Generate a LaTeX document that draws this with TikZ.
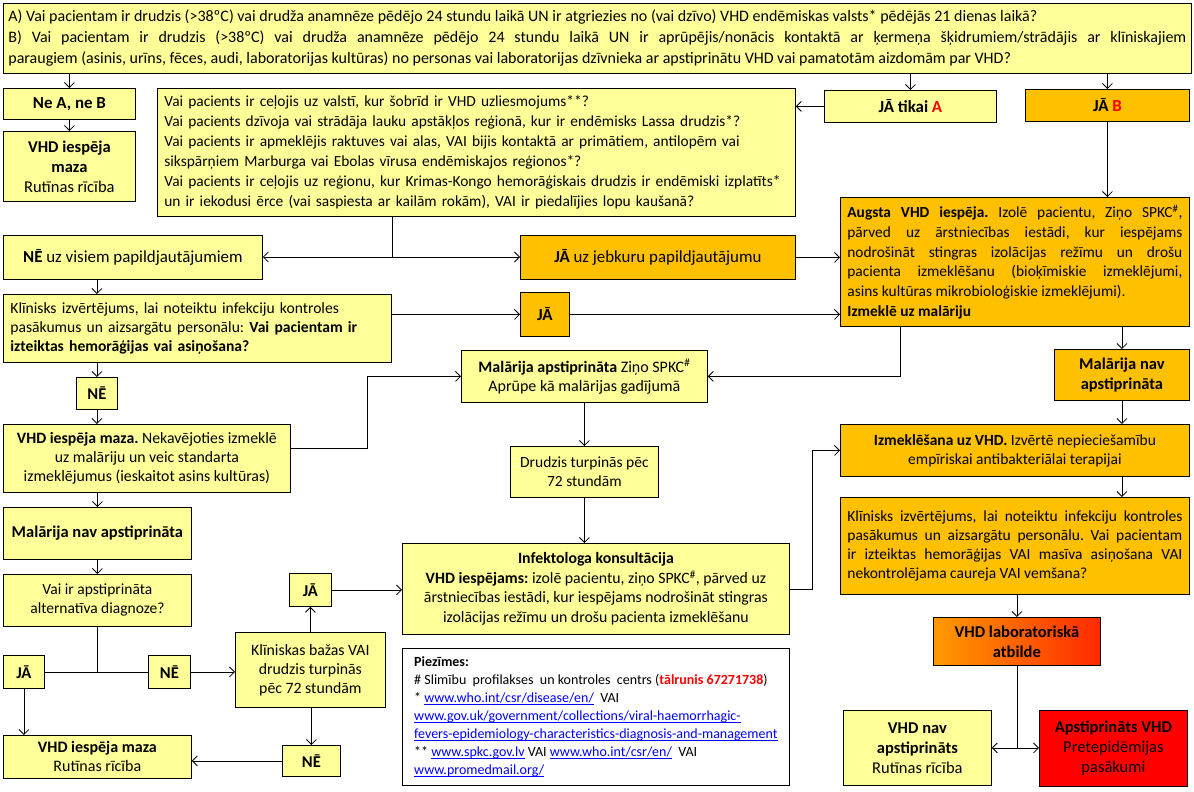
\documentclass[tikz,border=0pt]{standalone}
\usepackage{fontspec}
\setmainfont{Carlito}
\usetikzlibrary{arrows.meta}
\usetikzlibrary{shapes.geometric}
\definecolor{lyellow}{HTML}{FFFF99}
\definecolor{lorange}{HTML}{FFC000}
\definecolor{labA}{HTML}{FF9A00}
\definecolor{labB}{HTML}{FF2A00}
\newcommand{\lnk}[1]{\leavevmode{\color{blue}\setbox0\hbox{#1}\rlap{\rule[-2pt]{\wd0}{0.6pt}}\box0}}
\frenchspacing
\tikzstyle{arrow} = [line width=0.8pt,->,>={Straight Barb[length=5pt,width=10pt]}]
\tikzstyle{line} = [line width=0.8pt]
\tikzstyle{ybox} = [rectangle, draw=black, line width=0.8pt, fill=lyellow, anchor=north west, inner xsep=4pt, inner ysep=2pt, align=center, font=\fontsize{15.5}{19.5}\selectfont]
\tikzstyle{obox} = [ybox, fill=lorange]
\tikzstyle{big} = [font=\fontsize{16.9}{20}\selectfont]
\tikzstyle{mid} = [font=\fontsize{16.5}{20}\selectfont]

\begin{document}
\begin{tikzpicture}[x=1pt, y=-1pt]
		\useasboundingbox (0,0) rectangle (1194,792);
		% top question
		\node (top) [ybox, text width=1178pt, minimum height=70pt, align=justify, inner xsep=5pt, font=\fontsize{16}{21}\selectfont] at (3,3) {A) Vai pacientam ir drudzis (>38ºC) vai drudža anamnēze pēdējo 24 stundu laikā UN ir atgriezies no (vai dzīvo) VHD endēmiskas valsts* pēdējās 21 dienas laikā?\\ B) Vai pacientam ir drudzis (>38ºC) vai drudža anamnēze pēdējo 24 stundu laikā UN ir aprūpējis/nonācis kontaktā ar ķermeņa šķidrumiem/strādājis ar klīniskajiem\linebreak paraugiem (asinis, urīns, fēces, audi, laboratorijas kultūras) no personas vai laboratorijas dzīvnieka ar apstiprinātu VHD vai pamatotām aizdomām par VHD?};
		\node (nenb) [ybox, big, minimum width=132pt, minimum height=31pt] at (3,88) {\textbf{Ne A, ne B}};
		\node (mz1) [ybox, mid, minimum width=132pt, minimum height=70pt] at (3,131) {\textbf{VHD iespēja}\\ \textbf{maza}\\ Rutīnas rīcība};
		\node (q) [ybox, text width=624pt, minimum height=128pt, align=left, inner xsep=7pt, font=\fontsize{15.4}{20}\selectfont] at (157,88) {Vai pacients ir ceļojis uz valstī, kur šobrīd ir VHD uzliesmojums**?\\ Vai pacients dzīvoja vai strādāja lauku apstākļos reģionā, kur ir endēmisks Lassa drudzis*?\\ Vai pacients ir apmeklējis raktuves vai alas, VAI bijis kontaktā ar primātiem, antilopēm vai\\ sikspārņiem Marburga vai Ebolas vīrusa endēmiskajos reģionos*?\\ Vai pacients ir ceļojis uz reģionu, kur Krimas-Kongo hemorāģiskais drudzis ir endēmiski izplatīts*\\ un ir iekodusi ērce (vai saspiesta ar kailām rokām), VAI ir piedalījies lopu kaušanā?};
		\node (jta) [ybox, big, minimum width=172pt, minimum height=32pt] at (824,90) {\textbf{JĀ tikai {\color{red}A}}};
		\node (jb) [obox, big, minimum width=164pt, minimum height=32pt] at (1025,89) {\textbf{JĀ {\color{red}B}}};
		\node (nall) [ybox, big, minimum width=259pt, minimum height=44pt] at (3,235) {\textbf{NĒ} uz visiem papildjautājumiem};
		\node (jany) [obox, big, minimum width=275pt, minimum height=44pt] at (520,235) {\textbf{JĀ} uz jebkuru papildjautājumu};
		\node (aug) [obox, text width=335pt, minimum height=129pt, align=justify, inner xsep=7pt, font=\fontsize{15.4}{19.7}\selectfont] at (840,197) {\textbf{Augsta VHD iespēja.} Izolē pacientu, Ziņo SPKC\textsuperscript{\#},\linebreak pārved uz ārstniecības iestādi, kur iespējams\linebreak nodrošināt stingras izolācijas režīmu un drošu\linebreak pacienta izmeklēšanu (bioķīmiskie izmeklējumi,\linebreak asins kultūras mikrobioloģiskie izmeklējumi).\\ \textbf{Izmeklē uz malāriju}};
		% left branch
		\node (kl1) [ybox, text width=374pt, minimum height=68pt, align=left, inner xsep=7pt, font=\fontsize{15.6}{19}\selectfont] at (3,294) {Klīnisks izvērtējums, lai noteiktu infekciju kontroles\\ pasākumus un aizsargātu personālu: \textbf{Vai pacientam ir}\\ \textbf{izteiktas hemorāģijas vai asiņošana?}};
		\node (ja1) [obox, big, minimum width=49pt, minimum height=44pt] at (520,292) {\textbf{JĀ}};
		\node (ne1) [ybox, mid, minimum width=41pt, minimum height=32pt] at (76,377) {\textbf{NĒ}};
		\node (mz2) [ybox, minimum width=287pt, minimum height=68pt, font=\fontsize{15.8}{19}\selectfont] at (3,424) {\textbf{VHD iespēja maza.} Nekavējoties izmeklē\\ uz malāriju un veic standarta\\ izmeklējumus (ieskaitot asins kultūras)};
		\node (map) [ybox, minimum width=246pt, minimum height=52pt, font=\fontsize{16}{19}\selectfont] at (461,350) {\textbf{Malārija apstiprināta} Ziņo SPKC\textsuperscript{\#}\\ Aprūpe kā malārijas gadījumā};
		\node (mnr) [obox, mid, minimum width=135pt, minimum height=51pt] at (1054,349) {\textbf{Malārija nav}\\ \textbf{apstiprināta}};
		\node (dr) [ybox, minimum width=148pt, minimum height=51pt, font=\fontsize{15.5}{19}\selectfont] at (510,446) {Drudzis turpinās pēc\\ 72 stundām};
		\node (izm) [obox, minimum width=349pt, minimum height=52pt, font=\fontsize{15.5}{19}\selectfont] at (840,424) {\textbf{Izmeklēšana uz VHD.} Izvērtē nepieciešamību\\ empīriskai antibakteriālai terapijai};
		\node (kl2) [obox, text width=335pt, minimum height=97pt, align=justify, inner xsep=7pt, font=\fontsize{15.5}{19}\selectfont] at (840,497) {Klīnisks izvērtējums, lai noteiktu infekciju kontroles\linebreak pasākumus un aizsargātu personālu. Vai pacientam\linebreak ir izteiktas hemorāģijas VAI masīva asiņošana VAI\linebreak nekontrolējama caureja VAI vemšana?};
		\node (mnl) [ybox, mid, minimum width=188pt, minimum height=52pt] at (3,507) {\textbf{Malārija nav apstiprināta}};
		\node (alt) [ybox, minimum width=188pt, minimum height=52pt, font=\fontsize{15.5}{19}\selectfont] at (3,574) {Vai ir apstiprināta\\ alternatīva diagnoze?};
		\node (ja2) [ybox, mid, minimum width=41pt, minimum height=33pt] at (3,655) {\textbf{JĀ}};
		\node (ne2) [ybox, mid, minimum width=42pt, minimum height=33pt] at (148,655) {\textbf{NĒ}};
		\node (kb) [ybox, minimum width=150pt, minimum height=75pt, font=\fontsize{15.8}{19}\selectfont] at (235,632) {Klīniskas bažas VAI\\ drudzis turpinās\\ pēc 72 stundām};
		\node (ja3) [ybox, mid, minimum width=42pt, minimum height=33pt] at (289,573) {\textbf{JĀ}};
		\node (ne3) [ybox, mid, minimum width=58pt, minimum height=31pt] at (282,745) {\textbf{NĒ}};
		\node (mz3) [ybox, minimum width=188pt, minimum height=43pt, font=\fontsize{16}{19}\selectfont] at (3,735) {\textbf{VHD iespēja maza}\\ Rutīnas rīcība};
		\node (inf) [ybox, minimum width=387pt, minimum height=91pt, font=\fontsize{15.8}{19.5}\selectfont] at (402,543) {\textbf{Infektologa konsultācija}\\ \textbf{VHD iespējams:} izolē pacientu, ziņo SPKC\textsuperscript{\#}, pārved uz\\ ārstniecības iestādi, kur iespējams nodrošināt stingras\\ izolācijas režīmu un drošu pacienta izmeklēšanu};
		\node (pz) [ybox, fill=white, minimum width=387pt, minimum height=137pt, align=left, font=\fontsize{14}{18}\selectfont] at (402,648) {\textbf{Piezīmes:}\\ \# Slimību\ \ profilakses\ \ un kontroles\ \ centrs ({\color{red}\textbf{tālrunis 67271738}})\\ {*} \lnk{www.who.int/csr/disease/en/}\ \ VAI\\ \lnk{www.gov.uk/government/collections/viral-haemorrhagic-}\\ \lnk{fevers-epidemiology-characteristics-diagnosis-and-management}\\ {**} \lnk{www.spkc.gov.lv} VAI \lnk{www.who.int/csr/en/}\ \ VAI\\ \lnk{www.promedmail.org/}};
		% laboratory result
		\node (lab) [ybox, mid, left color=labA, right color=labB, minimum width=167pt, minimum height=48pt] at (933,617) {\textbf{VHD laboratoriskā}\\ \textbf{atbilde}};
		\node (vna) [ybox, mid, minimum width=148pt, minimum height=75pt] at (843,710) {\textbf{VHD nav}\\ \textbf{apstiprināts}\\ Rutīnas rīcība};
		\node (apv) [ybox, mid, fill=red, minimum width=148pt, minimum height=76pt] at (1039,710) {\textbf{Apstiprināts VHD}\\ Pretepidēmijas\\ pasākumi};
		% connectors
		\coordinate (qj) at (392,257);
		\coordinate (c2) at (900,0);
		\draw [arrow] (top.south -| nenb) -- (nenb);
		\draw [arrow] (nenb) -- (mz1);
		\draw [arrow] (top.south -| jta) -- (jta);
		\draw [arrow] (top.south -| jb) -- (jb);
		\draw [arrow] (jta.west) -- (jta.west -| q.east);
		\draw [arrow] (jb) -- (jb |- aug.north);
		\draw [line] (q.south -| qj) -- (qj);
		\draw [arrow] (qj) -- (nall.east |- qj);
		\draw [arrow] (qj) -- (jany.west |- qj);
		\draw [arrow] (jany.east) -- (jany.east -| aug.west);
		\draw [arrow] (nall.south -| ne1) -- (kl1.north -| ne1);
		\draw [arrow] (kl1.south -| ne1) -- (ne1);
		\draw [arrow] (ne1) -- (ne1 |- mz2.north);
		\draw [arrow] (kl1.east |- ja1) -- (ja1);
		\draw [arrow] (ja1) -- (ja1 -| aug.west);
		\draw [arrow] ([yshift=10pt]mz2.east) -- ++(77,0) |- (map.west);
		\draw [arrow] (aug.south -| c2) |- (map.east);
		\draw [arrow] (aug.south -| mnr) -- (mnr);
		\draw [arrow] (mnr) -- (mnr |- izm.north);
		\draw [arrow] (map) -- (dr);
		\draw [arrow] (dr) -- (dr |- inf.north);
		\draw [arrow] (inf.east) -- ++(23,0) |- (izm.west);
		\draw [arrow] (izm.south -| mnr) -- (kl2.north -| mnr);
		\draw [arrow] (kl2.south -| lab) -- (lab);
		\draw [line] (lab.south) -- (lab.south |- vna.east);
		\draw [arrow] (lab.south |- vna.east) -- (vna.east);
		\draw [arrow] (lab.south |- vna.east) -- (apv.west |- vna.east);
		\draw [arrow] (mz2.south -| mnl) -- (mnl);
		\draw [arrow] (mnl) -- (alt);
		\draw [line] (alt) -- (alt |- ja2.east);
		\draw [line] (ja2.east) -- (ne2.west);
		\draw [arrow] (ne2.east) -- (ne2.east -| kb.west);
		\draw [arrow] (ja2) -- (ja2 |- mz3.north);
		\draw [arrow] (kb) -- (ja3);
		\draw [arrow] (ja3.east) -- (ja3.east -| inf.west);
		\draw [arrow] (kb.south -| ne3) -- (ne3);
		\draw [arrow] (ne3.west) -- (ne3.west -| mz3.east);
\end{tikzpicture}
\end{document}
